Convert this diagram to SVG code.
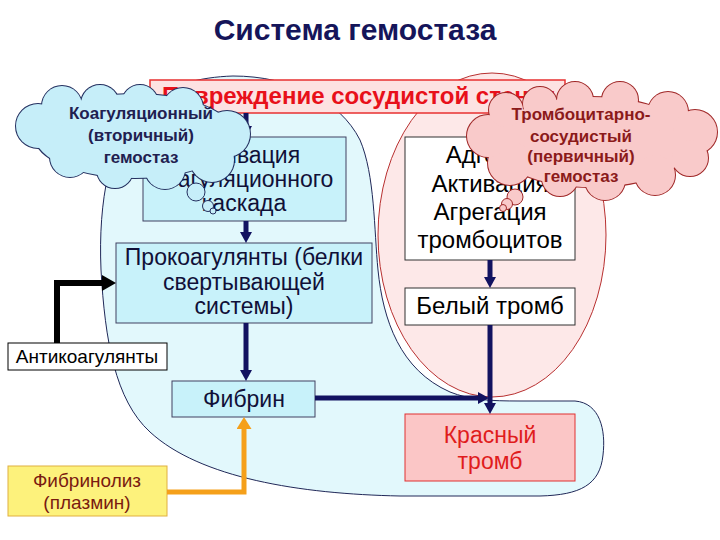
<svg xmlns="http://www.w3.org/2000/svg" width="720" height="540" viewBox="0 0 720 540">
<style>
text{font-family:"Liberation Sans",Arial,sans-serif}
.title{font-size:30px;font-weight:bold;fill:#15155a;text-anchor:middle}
.box{fill:#c8f2fa;stroke:#404060;stroke-width:1}
.wbox{fill:#ffffff;stroke:#303030;stroke-width:1}
.t23{font-size:23px;fill:#101038;text-anchor:middle}
.t24{font-size:24px;fill:#000000;text-anchor:middle}
.cloudtxt{font-size:17px;font-weight:bold;text-anchor:middle}
.nav{fill:none;stroke:#121260;stroke-width:5}
</style>
<defs>
<marker id="an" markerUnits="userSpaceOnUse" markerWidth="11" markerHeight="12" refX="0" refY="6" orient="auto">
<path d="M0,0 L11,6 L0,12 Z" fill="#121260"/>
</marker>
<marker id="ab" markerUnits="userSpaceOnUse" markerWidth="14" markerHeight="16" refX="0" refY="8" orient="auto">
<path d="M0,0 L14,8 L0,16 Z" fill="#000000"/>
</marker>
<marker id="ao" markerUnits="userSpaceOnUse" markerWidth="12" markerHeight="15" refX="0" refY="7.5" orient="auto">
<path d="M0,0 L12,7.5 L0,15 Z" fill="#f5a01a"/>
</marker>
<g id="lcShape">
<ellipse cx="135" cy="136" rx="100" ry="42"/>
<circle cx="38" cy="126" r="22"/>
<circle cx="62" cy="106" r="20"/>
<circle cx="100" cy="104" r="19"/>
<circle cx="140" cy="103" r="18"/>
<circle cx="183" cy="108" r="20"/>
<circle cx="227" cy="134" r="23"/>
<circle cx="212" cy="160" r="22"/>
<circle cx="165" cy="169" r="20"/>
<circle cx="115" cy="170" r="18"/>
<circle cx="70" cy="157" r="20"/>
</g>
<g id="rcShape">
<ellipse cx="592" cy="142" rx="100" ry="45"/>
<circle cx="540" cy="104" r="17"/>
<circle cx="575" cy="100" r="18"/>
<circle cx="620" cy="100" r="18"/>
<circle cx="668" cy="112" r="20"/>
<circle cx="695" cy="132" r="22"/>
<circle cx="690" cy="158" r="18"/>
<circle cx="655" cy="175" r="20"/>
<circle cx="605" cy="180" r="20"/>
<circle cx="560" cy="178" r="18"/>
<circle cx="510" cy="163" r="22"/>
<circle cx="488" cy="136" r="21"/>
<circle cx="506" cy="110" r="17"/>
</g>
</defs>

<rect width="720" height="540" fill="#ffffff"/>

<g id="title"><text class="title" x="355" y="40">Система гемостаза</text></g>

<g id="region-secondary">
<path d="M233 76 C290 76 340 100 360 140 C375 175 374 230 378 270 C383 320 400 370 450 392 C470 400 490 401 520 401 L575 401 C600 403 606 430 603 455 C600 485 580 495 540 496 L400 496 C300 494 200 478 150 432 C115 400 105 340 101 270 C98 200 110 140 140 108 C165 85 200 77 233 76 Z" fill="#e2f8fc" stroke="#202858" stroke-width="1"/>
</g>
<g id="region-primary">
<ellipse cx="492" cy="235" rx="114" ry="162" fill="#fde8e8" stroke="#b83030" stroke-width="1"/>
</g>

<g id="damage">
<rect x="150" y="80" width="415" height="33" fill="#fde2e2" stroke="#e83030" stroke-width="1.5"/>
<text x="162" y="104" font-size="24" font-weight="bold" fill="#e8101a">Повреждение сосудистой стенки</text>
</g>

<g id="activation">
<rect class="box" x="143" y="137" width="203" height="84"/>
<text class="t23" x="244" y="163">Активация</text>
<text class="t23" x="244" y="187">коагуляционного</text>
<text class="t23" x="244" y="211">каскада</text>
</g>

<g id="procoagulants">
<rect class="box" x="116" y="243" width="256" height="80"/>
<text class="t23" x="244" y="265">Прокоагулянты (белки</text>
<text class="t23" x="244" y="290">свертывающей</text>
<text class="t23" x="244" y="314">системы)</text>
</g>

<g id="fibrin">
<rect class="box" x="172" y="381" width="143" height="36"/>
<text class="t23" x="244" y="407">Фибрин</text>
</g>

<g id="anticoagulants">
<rect x="8" y="343" width="159" height="27" fill="#ffffff" stroke="#000000" stroke-width="1"/>
<text x="87" y="363" font-size="19" fill="#000000" text-anchor="middle">Антикоагулянты</text>
</g>

<g id="fibrinolysis">
<rect x="8" y="466" width="159" height="50" fill="#fdf27c" stroke="#e0b040" stroke-width="1"/>
<text x="87" y="487" font-size="19" fill="#7a1a10" text-anchor="middle">Фибринолиз</text>
<text x="87" y="509" font-size="19" fill="#7a1a10" text-anchor="middle">(плазмин)</text>
</g>

<g id="platelets">
<rect class="wbox" x="405" y="137" width="170" height="123"/>
<text class="t24" x="490" y="163">Адгезия</text>
<text class="t24" x="490" y="192">Активация</text>
<text class="t24" x="490" y="220">Агрегация</text>
<text class="t24" x="490" y="248">тромбоцитов</text>
</g>

<g id="white-thrombus">
<rect class="wbox" x="405" y="288" width="170" height="37"/>
<text class="t24" x="490" y="314" font-size="23">Белый тромб</text>
</g>

<g id="red-thrombus">
<rect x="405" y="414" width="170" height="67" fill="#fbc6c6" stroke="#e03030" stroke-width="1"/>
<text x="490" y="443" font-size="23" fill="#e01c1c" text-anchor="middle">Красный</text>
<text x="490" y="469" font-size="23" fill="#e01c1c" text-anchor="middle">тромб</text>
</g>

<g id="connectors">
<line class="nav" x1="246" y1="113" x2="246" y2="126" marker-end="url(#an)"/>
<line class="nav" x1="246" y1="221" x2="246" y2="232" marker-end="url(#an)"/>
<line class="nav" x1="246" y1="323" x2="246" y2="370" marker-end="url(#an)"/>
<line class="nav" x1="315" y1="398" x2="478" y2="398" marker-end="url(#an)"/>
<line class="nav" x1="490" y1="260" x2="490" y2="277" marker-end="url(#an)"/>
<line class="nav" x1="490" y1="325" x2="490" y2="403" marker-end="url(#an)"/>
<path d="M57 343 V283 H102" fill="none" stroke="#000000" stroke-width="6" marker-end="url(#ab)"/>
<path d="M167 492 H244 V429" fill="none" stroke="#f5a01a" stroke-width="5" marker-end="url(#ao)"/>
</g>

<g id="cloud-secondary">
<use href="#lcShape" fill="#c6eef9" stroke="#243060" stroke-width="2"/>
<use href="#lcShape" fill="#c6eef9" stroke="none"/>
<circle cx="196" cy="192" r="9" fill="#c6eef9" stroke="#243060" stroke-width="1"/>
<circle cx="208" cy="206" r="5.5" fill="#c6eef9" stroke="#243060" stroke-width="1"/>
<circle cx="213" cy="211" r="3" fill="#c6eef9" stroke="#243060" stroke-width="1"/>
<text class="cloudtxt" x="141" y="119" fill="#1f2050">Коагуляционный</text>
<text class="cloudtxt" x="141" y="141" fill="#1f2050">(вторичный)</text>
<text class="cloudtxt" x="141" y="163" fill="#1f2050">гемостаз</text>
</g>

<g id="cloud-primary">
<use href="#rcShape" fill="#f9caca" stroke="#a02828" stroke-width="2"/>
<use href="#rcShape" fill="#f9caca" stroke="none"/>
<circle cx="515" cy="197" r="8" fill="#f9caca" stroke="#a02828" stroke-width="1"/>
<circle cx="507" cy="204" r="5.5" fill="#f9caca" stroke="#a02828" stroke-width="1"/>
<circle cx="503" cy="208" r="3.5" fill="#f9caca" stroke="#a02828" stroke-width="1"/>
<text class="cloudtxt" x="581" y="120" fill="#8b1a1a">Тромбоцитарно-</text>
<text class="cloudtxt" x="581" y="142" fill="#8b1a1a">сосудистый</text>
<text class="cloudtxt" x="581" y="162" fill="#8b1a1a">(первичный)</text>
<text class="cloudtxt" x="581" y="182" fill="#8b1a1a">гемостаз</text>
</g>
</svg>
